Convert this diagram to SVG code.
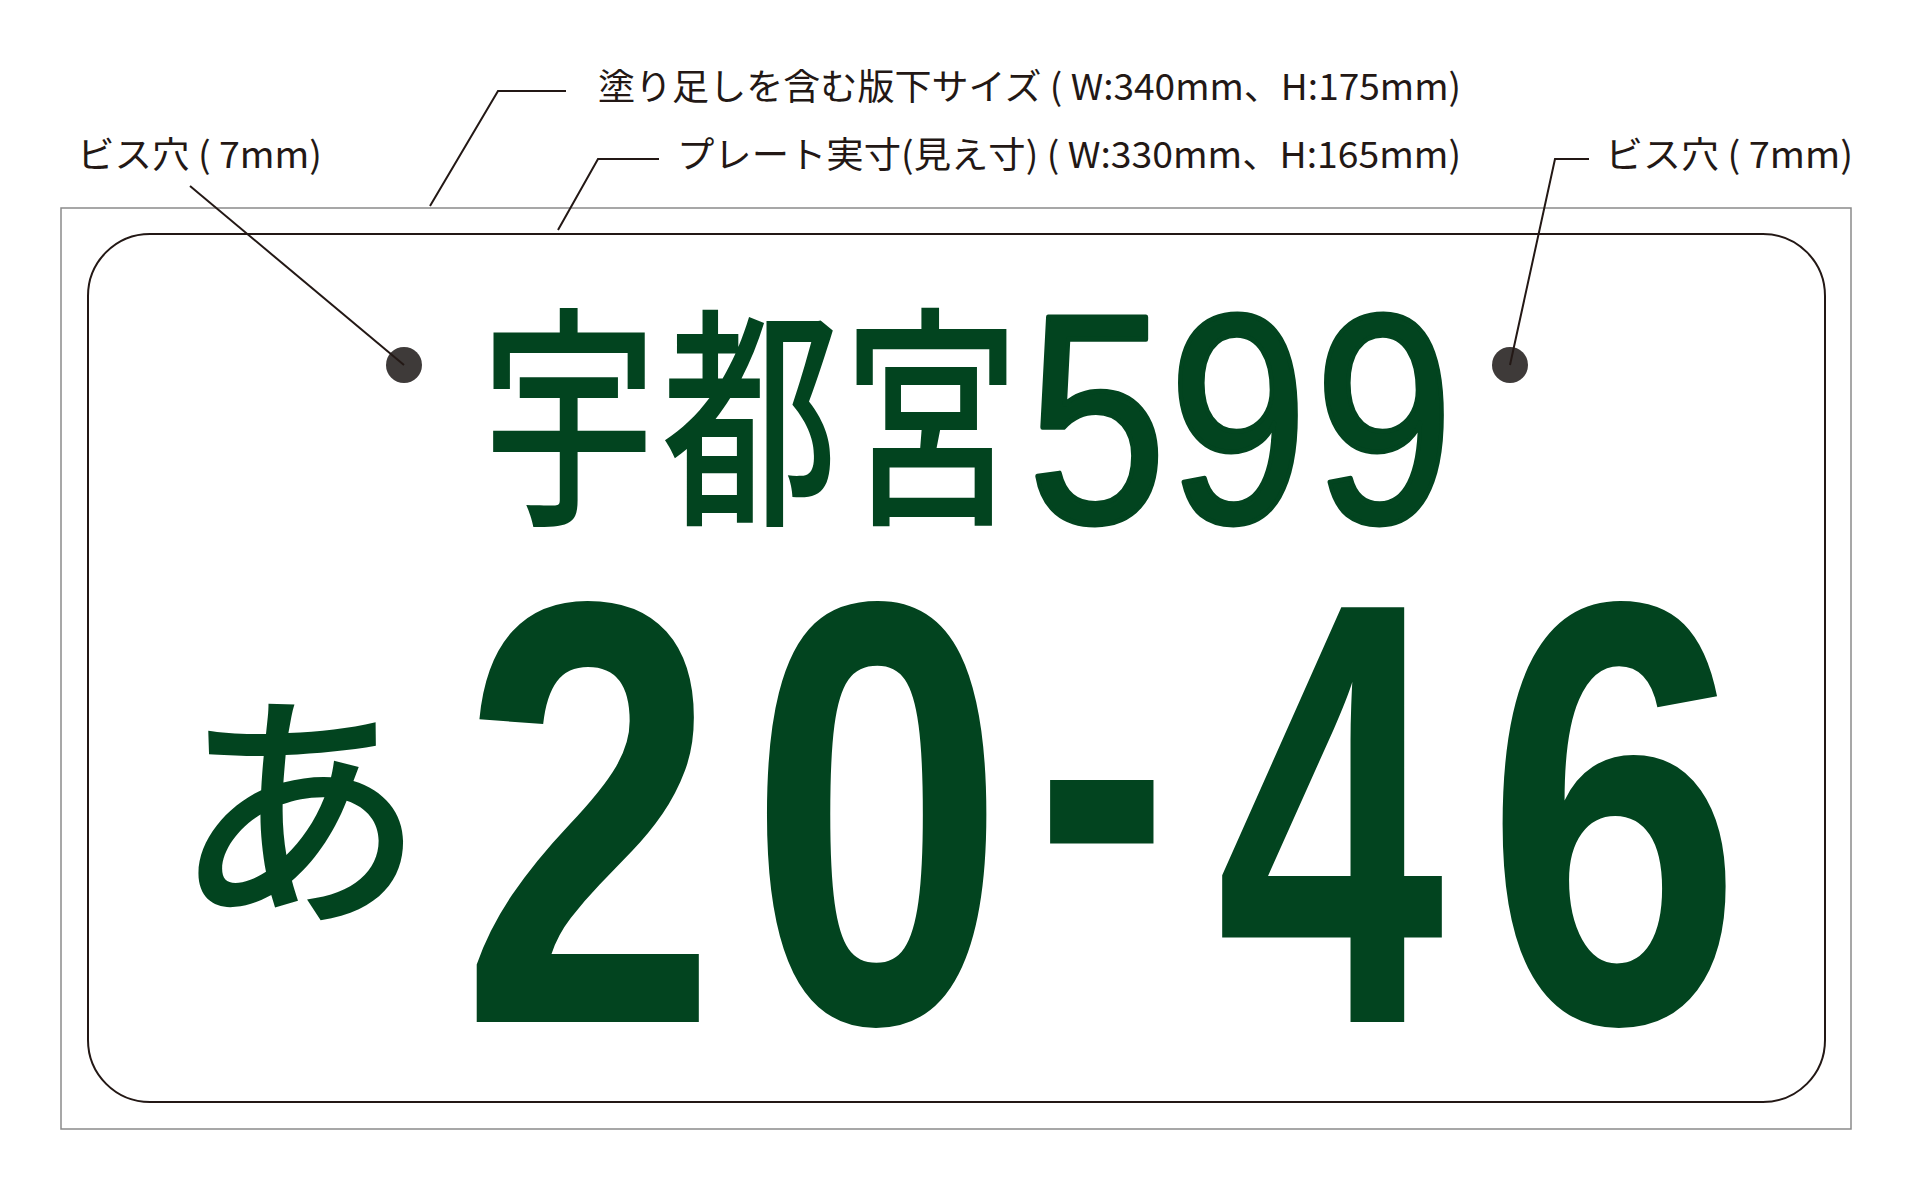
<svg xmlns="http://www.w3.org/2000/svg" width="1920" height="1200" viewBox="0 0 1920 1200">
<style>
.note{font-family:"Noto Sans CJK JP","Liberation Sans",sans-serif;font-size:36px;fill:#231815}
.lead{fill:none;stroke:#231815;stroke-width:2}
.kanji{font-family:"Noto Sans CJK JP",sans-serif;font-weight:500;fill:#02441f}
.num{font-family:"Liberation Sans","Noto Sans CJK JP",sans-serif;fill:#02441f}
.small{stroke:#02441f;stroke-width:5;stroke-linejoin:round}
</style>
<rect width="1920" height="1200" fill="#ffffff"/>
<g id="bleed">
<rect x="61" y="208" width="1790" height="921" fill="#ffffff" stroke="#8a8a8a" stroke-width="1.5"/>
</g>
<g id="plate">
<rect x="88" y="234" width="1737" height="868" rx="62" ry="62" fill="#ffffff" stroke="#231815" stroke-width="2"/>
</g>
<g id="hole-left"><circle cx="404" cy="365" r="18" fill="#3e3a39"/></g>
<g id="hole-right"><circle cx="1510" cy="365" r="18" fill="#3e3a39"/></g>
<g id="plate-text">
<text class="kanji" font-size="235" text-anchor="middle" transform="translate(569,507) scale(0.75,1)">宇</text>
<text class="kanji" font-size="235" text-anchor="middle" transform="translate(750,507) scale(0.75,1)">都</text>
<text class="kanji" font-size="235" text-anchor="middle" transform="translate(931,507) scale(0.75,1)">宮</text>
<text class="num small" font-size="298" text-anchor="middle" transform="translate(1097,522) scale(0.84,1)">5</text>
<text class="num small" font-size="298" text-anchor="middle" transform="translate(1238,522) scale(0.84,1)">9</text>
<text class="num small" font-size="298" text-anchor="middle" transform="translate(1384,522) scale(0.84,1)">9</text>
<text class="kanji" font-size="252" text-anchor="middle" x="299" y="906">あ</text>
<text class="num" font-weight="700" font-size="603" text-anchor="middle" transform="translate(589,1022) scale(0.765,1)">2</text>
<text class="num" font-weight="700" font-size="603" text-anchor="middle" transform="translate(877,1022) scale(0.765,1)">0</text>
<text class="num" font-weight="700" font-size="590" text-anchor="middle" transform="translate(1102,950) scale(0.69,0.904)">-</text>
<text class="num" font-weight="700" font-size="603" text-anchor="middle" transform="translate(1330,1022) scale(0.68,1)">4</text>
<text class="num" font-weight="700" font-size="603" text-anchor="middle" transform="translate(1614,1022) scale(0.765,1)">6</text>
</g>
<g id="label-bleed"><text class="note" x="598" y="100" textLength="863" lengthAdjust="spacingAndGlyphs">塗り足しを含む版下サイズ ( W:340mm、H:175mm)</text></g>
<g id="label-plate"><text class="note" x="677" y="168" textLength="784" lengthAdjust="spacingAndGlyphs">プレート実寸(見え寸) ( W:330mm、H:165mm)</text></g>
<g id="label-hole-left"><text class="note" x="77" y="168" textLength="245" lengthAdjust="spacingAndGlyphs">ビス穴 ( 7mm)</text></g>
<g id="label-hole-right"><text class="note" x="1605" y="168" textLength="248" lengthAdjust="spacingAndGlyphs">ビス穴 ( 7mm)</text></g>
<g id="connectors">
<polyline class="lead" points="430,206 498,91 566,91"/>
<polyline class="lead" points="558,230 598,159 659,159"/>
<polyline class="lead" points="190,186 404,365"/>
<polyline class="lead" points="1510,365 1555,159 1589,159"/>
</g>
</svg>
